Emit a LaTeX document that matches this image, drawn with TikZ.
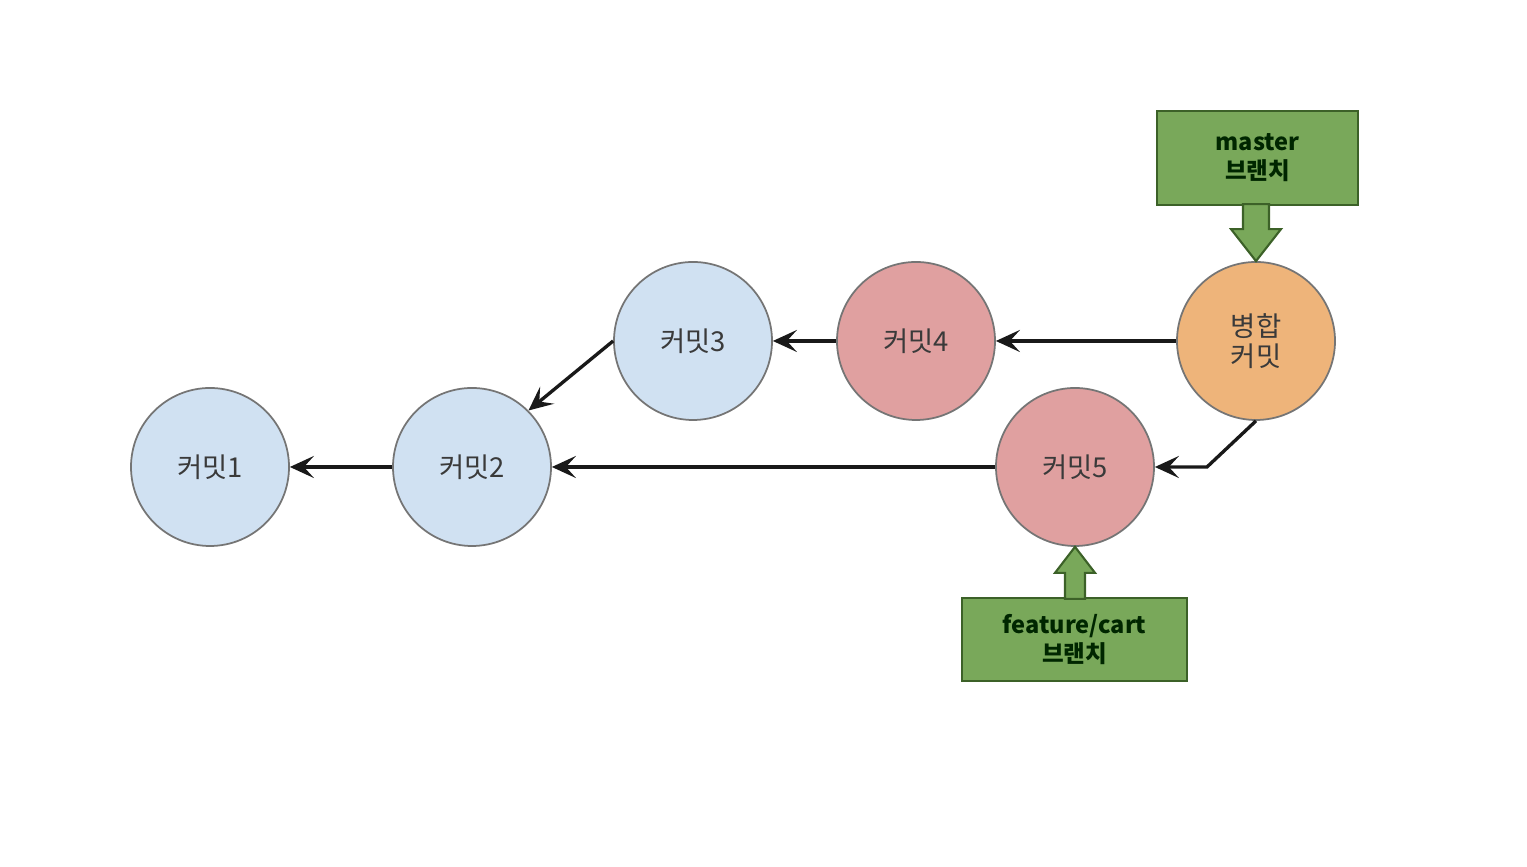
\documentclass[tikz,border=0pt]{standalone}
\usepackage{fontspec}
\setmainfont{Noto Sans CJK KR}
\usepackage{tikz}
\usetikzlibrary{arrows.meta,calc,positioning}
\definecolor{CommitBlue}{HTML}{D0E1F2}
\definecolor{CommitRed}{HTML}{E0A0A0}
\definecolor{MergeOrange}{HTML}{EEB47A}
\definecolor{BranchGreen}{HTML}{79A85A}
\definecolor{BranchEdge}{HTML}{3C6128}
\definecolor{CommitEdge}{HTML}{757575}
\definecolor{LabelGray}{HTML}{3A3A3A}

\begin{document}
\begin{tikzpicture}[
      commit/.style={
        circle,
        draw=CommitEdge,
        line width=0.5pt,
        minimum size=1.58cm,
        inner sep=0pt,
        align=center,
        text=LabelGray,
        font=\fontsize{7.8}{8.6}\selectfont
      },
      branch/.style={
        rectangle,
        draw=BranchEdge,
        fill=BranchGreen,
        line width=0.6pt,
        align=center,
        inner sep=0pt,
        text=black!85!green,
        font=\fontsize{6.7}{8.2}\selectfont\bfseries
      },
      parent/.style={-{Stealth[length=2.4mm,width=2.2mm,inset=1mm]}, line width=0.95pt, draw=black!90},
      pointer/.style={draw=BranchEdge, fill=BranchGreen, line width=0.6pt, line join=miter}
    ]
    \useasboundingbox (0,0) rectangle (15.27,8.67);

    % commits
    \node[commit, fill=CommitBlue] (c1) at (2.10,4.00) {커밋1};
    \node[commit, fill=CommitBlue] (c2) at (4.72,4.00) {커밋2};
    \node[commit, fill=CommitBlue] (c3) at (6.93,5.26) {커밋3};
    \node[commit, fill=CommitRed] (c4) at (9.16,5.26) {커밋4};
    \node[commit, fill=CommitRed] (c5) at (10.75,4.00) {커밋5};
    \node[commit, fill=MergeOrange] (merge) at (12.56,5.26) {병합\\커밋};

    % branch labels
    \node[branch, minimum width=2.01cm, minimum height=0.94cm] (master) at (12.575,7.09) {master\\브랜치};
    \node[branch, minimum width=2.25cm, minimum height=0.83cm] (feature) at (10.745,2.275) {feature/cart\\브랜치};

    \coordinate (bend) at (12.07,4.00);

    \draw[parent] (c2) -- (c1);
    \draw[parent] (c3.west) -- (c2.45);
    \draw[parent] (c4) -- (c3);
    \draw[parent] (merge) -- (c4);
    \draw[parent] (merge.south) -- (bend) -- (c5.east);
    \draw[parent] (c5) -- (c2);

    % branch pointers
    \draw[pointer] ($(merge.north)+(-0.13,0.57)$) -- ($(merge.north)+(-0.13,0.32)$)
      -- ($(merge.north)+(-0.25,0.32)$) -- (merge.north) -- ($(merge.north)+(0.25,0.32)$)
      -- ($(merge.north)+(0.13,0.32)$) -- ($(merge.north)+(0.13,0.57)$) -- cycle;
    \draw[pointer] ($(c5.south)+(-0.10,-0.52)$) -- ($(c5.south)+(-0.10,-0.26)$)
      -- ($(c5.south)+(-0.20,-0.26)$) -- (c5.south) -- ($(c5.south)+(0.20,-0.26)$)
      -- ($(c5.south)+(0.10,-0.26)$) -- ($(c5.south)+(0.10,-0.52)$) -- cycle;
  \end{tikzpicture}
\end{document}
